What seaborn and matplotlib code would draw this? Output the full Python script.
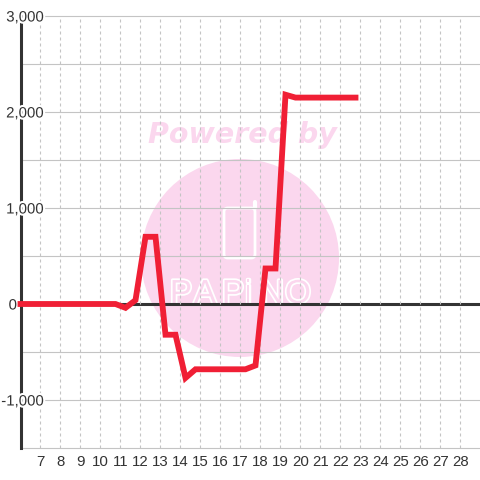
import matplotlib
matplotlib.use('Agg')
import matplotlib.pyplot as plt
import matplotlib.patheffects as pe
from matplotlib.lines import Line2D
from matplotlib.patches import Circle, FancyBboxPatch
from matplotlib.transforms import Affine2D
import pandas as pd
import seaborn as sns

# half-day samples
days = [6, 6.75, 7.25, 7.75, 8.25, 8.75, 9.25, 9.75, 10.25, 10.75, 11.25, 11.75,
        12.25, 12.75, 13.25, 13.75, 14.25, 14.75, 15.25, 15.75, 16.25, 16.75, 17.25, 17.75,
        18.25, 18.75, 19.25, 19.75, 20.25, 20.75, 21.25, 21.75, 22.25, 22.75]
values = [0, 0, 0, 0, 0, 0, 0, 0, 0, 0, -40, 40,
          700, 700, -320, -320, -770, -680, -680, -680, -680, -680, -680, -640,
          370, 370, 2180, 2150, 2150, 2150, 2150, 2150, 2150, 2150]
x_ticks = list(range(7, 29))
y_ticks = [-1000, 0, 1000, 2000, 3000]
y_minor = [-1500, -500, 500, 1500, 2500]
logo_letters = ['P', 'A', 'P', 'i', 'N', 'O']

LINE = '#f01f35'
GRID = '#c4c4c4'
DARK = '#333333'
PINK = '#fbd7ee'

sns.set_theme(style='white')
plt.rcParams['font.family'] = ['Liberation Sans', 'DejaVu Sans']

fig = plt.figure(figsize=(4.8, 4.8), dpi=100)
ax = fig.add_axes([20.5 / 480, 1 - 448 / 480, 459.5 / 480, 432 / 480])

df = pd.DataFrame({'day': days, 'value': values})
sns.lineplot(data=df, x='day', y='value', color=LINE, linewidth=4.2, ax=ax, zorder=6,
             solid_capstyle='projecting', solid_joinstyle='miter', clip_on=False)
ax.set_xlim(6, 6 + 459.5 / 20)
ax.set_ylim(-1500, 3000)
ax.set_xlabel('')
ax.set_ylabel('')

# watermark, placed in pixels of the figure
def pt(x, y):
    return (x / 480, 1 - y / 480)

tf = fig.transFigure
ax.add_artist(Circle(pt(240, 258), 99 / 480, transform=tf, fc=PINK, ec='none', zorder=0.2, clip_on=False))
ax.text(*pt(242, 135), 'Powered by', transform=tf, color=PINK, fontsize=20.5, fontweight='bold', fontstyle='italic',
        family=['DejaVu Sans'], ha='center', va='center', zorder=0.3)
ax.add_artist(FancyBboxPatch(pt(224, 258), 31 / 480, 50 / 480, boxstyle='round,pad=0,rounding_size=0.008',
                             transform=tf, fc='none', ec='white', lw=2, zorder=0.3, clip_on=False))
ax.add_artist(Line2D([pt(255, 208)[0], pt(255, 202)[0]], [pt(255, 208)[1], pt(255, 202)[1]], transform=tf,
                     color='white', lw=3, solid_capstyle='round', zorder=0.3))
logo_x = [181, 205, 233, 248, 272, 298]
for ch, lx in zip(logo_letters, logo_x):
    ax.text(*pt(lx, 303), ch, transform=tf, color=PINK, fontsize=24, ha='center', va='baseline', zorder=0.3,
            family=['Liberation Sans'],
            path_effects=[pe.withStroke(linewidth=2.5, foreground='white')])

# grid, the axis (with its label halos) sits above it
for y in y_minor + y_ticks:
    ax.axhline(y, color=GRID, lw=0.8, zorder=1, clip_on=False)
ax.set_xticks(x_ticks)
ax.set_yticks(y_ticks)
ax.xaxis.grid(True, color=GRID, lw=0.8, ls=(0, (2.7, 2.7)))
ax.yaxis.grid(False)
ax.set_axisbelow('line')
ax.axhline(0, color=DARK, lw=2.2, zorder=1.2)

for s in ['top', 'right', 'bottom']:
    ax.spines[s].set_visible(False)
ax.spines['left'].set_color(DARK)
ax.spines['left'].set_linewidth(2.2)
ax.spines['left'].set_zorder(1.3)

halo = [pe.withStroke(linewidth=3, foreground='white')]
ax.set_yticklabels([f'{v:,}' for v in y_ticks])
ax.tick_params(axis='y', length=0, pad=-17, labelsize=10.8, labelcolor=DARK)
ax.tick_params(axis='x', length=0, pad=5, labelsize=10.8, labelcolor=DARK)
for t in ax.get_yticklabels():
    t.set_path_effects(halo)
    # the 0 label sits left of the axis line in the original
    if t.get_text() == '0':
        t.set_transform(t.get_transform() + Affine2D().translate(-27, 0))

fig.savefig('out.png', dpi=100)
